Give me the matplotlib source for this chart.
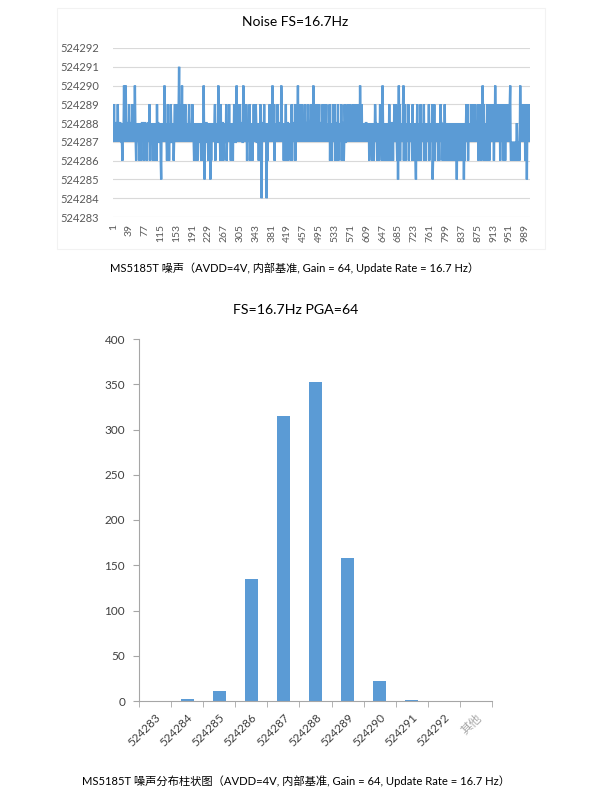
import matplotlib
matplotlib.use("Agg")
import matplotlib.pyplot as plt
from matplotlib.patches import Rectangle

plt.rcParams['font.family'] = ['Lato', 'Noto Sans CJK SC', 'DejaVu Sans']

# ---------------- data ----------------
# Noise trace: each digit d -> 524282 + d  (1000 samples, 50 per row)
noise_offset = 524282
noise_digits = [
    "6575656656 5756566656 5546568656 8656656575 6566567565",
    "6586545656 5654564656 6564566656 4565665746 5656545654",
    "6556475665 5656436565 6568565654 5756465576 5565645675",
    "6575666795 6757685665 6767565656 5676565656 7565456545",
    "6545656556 5464565853 6556656545 6563545656 5656746565",
    "5586565474 6566456556 5745656575 6545656465 7565568565",
    "7565756566 5586566657 6465656745 6565465756 5676556564",
    "6557562656 6575656526 4565676565 6585657465 6565756566",
    "5658756564 6565746566 4656565474 6566657465 7568567565",
    "6757565656 7565665756 5656765756 8665657565 7566756656",
    "5675656575 6756565657 4656465756 5746566457 4656565746",
    "5664576556 6575665765 6565756657 6575665765 7586567565",
    "6565656656 5656456565 6465646576 6564656465 7565468654",
    "6564656464 6575646566 6465756576 5463685746 5656578465",
    "7465656574 6565656474 6565643657 4656465746 5656574656",
    "4656565746 5656573465 7465656564 6546576656 4656475464",
    "6545656546 5464656454 6545365464 6546565454 6354656765",
    "7465656575 6576575676 5656574675 6574658657 4656465746",
    "5746576567 6574658657 6657565746 5756574657 4657565756",
    "5785454545 4545454565 4545458675 6575675746 5736757576",
]
noise_values = [noise_offset + int(c) for c in "".join(noise_digits).replace(" ", "")]
sample_index = list(range(1, len(noise_values) + 1))
noise_yticks = list(range(524283, 524293))
noise_xticks = list(range(1, 1000, 38))

# Histogram
hist_categories = ["524283", "524284", "524285", "524286", "524287", "524288",
                   "524289", "524290", "524291", "524292", "其他"]
hist_counts = [0, 2, 11, 135, 315, 353, 158, 22, 1, 0, 0]
hist_yticks = [0, 50, 100, 150, 200, 250, 300, 350, 400]

title_top = "Noise FS=16.7Hz"
title_bottom = "FS=16.7Hz PGA=64"
caption_top = "MS5185T 噪声（AVDD=4V, 内部基准, Gain = 64, Update Rate = 16.7 Hz）"
caption_bottom = "MS5185T 噪声分布柱状图（AVDD=4V, 内部基准, Gain = 64, Update Rate = 16.7 Hz）"

# ---------------- figure ----------------
W, H = 600, 809
fig = plt.figure(figsize=(W / 100, H / 100), dpi=100)
fig.patch.set_facecolor("white")

def fx(px):
    return px / W

def fy(py):
    return 1 - py / H

BLUE = "#5B9BD5"
GRAY_TXT = "#595959"
GRID = "#D9D9D9"

# faint chart-area border for the top chart
fig.patches.append(Rectangle((fx(57), fy(249)), fx(545) - fx(57), fy(8) - fy(249),
                             transform=fig.transFigure, fill=False,
                             edgecolor="#F2F2F2", linewidth=0.8))

# ---- top line chart ----
n = len(noise_values)
ax1 = fig.add_axes([fx(113), fy(217), fx(530) - fx(113), fy(48) - fy(217)])
ax1.plot(sample_index, noise_values, color=BLUE, linewidth=1.7, solid_joinstyle="miter")
ax1.set_xlim(0.5, n + 0.5)
ax1.set_ylim(524283, 524292)
ax1.set_yticks(noise_yticks)
ax1.set_yticklabels([str(v) for v in noise_yticks], fontsize=8, color=GRAY_TXT)
ax1.set_xticks(noise_xticks)
ax1.set_xticklabels([str(v) for v in noise_xticks], rotation=90, fontsize=7.5, color=GRAY_TXT)
ax1.grid(axis="y", color=GRID, linewidth=0.8)
ax1.set_axisbelow(True)
for s in ax1.spines.values():
    s.set_visible(False)
ax1.tick_params(axis="both", length=0, pad=5)
ax1.tick_params(axis="y", pad=10)

fig.text(fx(295), fy(22), title_top, ha="center", va="center", fontsize=10, color="black")
fig.text(fx(295), fy(268), caption_top, ha="center", va="center", fontsize=8,
         family=['Lato', 'Noto Sans CJK SC', 'DejaVu Sans'])

# ---- bottom histogram ----
ax2 = fig.add_axes([fx(139), fy(701), fx(492) - fx(139), fy(339) - fy(701)])
xpos = list(range(len(hist_categories)))
ax2.bar(xpos, hist_counts, width=0.4, color=BLUE)
ax2.set_xlim(-0.5, len(hist_categories) - 0.5)
ax2.set_ylim(0, 400)
ax2.set_yticks(hist_yticks)
ax2.set_yticklabels([str(v) for v in hist_yticks], fontsize=8.5, color="#404040")
ax2.set_xticks(xpos)
labels = ax2.set_xticklabels(hist_categories, rotation=45, ha="right",
                             rotation_mode="anchor", fontsize=8.5, color="#404040")
labels[-1].set_color("#A6A6A6")
ax2.set_xticks([x - 0.5 for x in range(len(hist_categories) + 1)], minor=True)
ax2.tick_params(axis="x", which="major", length=0, pad=8)
ax2.tick_params(axis="x", which="minor", length=4, color="#A6A6A6", direction="out")
ax2.tick_params(axis="y", length=4, color="#A6A6A6", direction="out", pad=6)
for side in ["top", "right"]:
    ax2.spines[side].set_visible(False)
for side in ["left", "bottom"]:
    ax2.spines[side].set_color("#A6A6A6")
    ax2.spines[side].set_linewidth(0.8)

fig.text(fx(296), fy(310), title_bottom, ha="center", va="center", fontsize=10.2, color="black")
fig.text(fx(296), fy(781), caption_bottom, ha="center", va="center", fontsize=8.1,
         family=['Lato', 'Noto Sans CJK SC', 'DejaVu Sans'])

fig.savefig("out.png", dpi=100, facecolor="white")
